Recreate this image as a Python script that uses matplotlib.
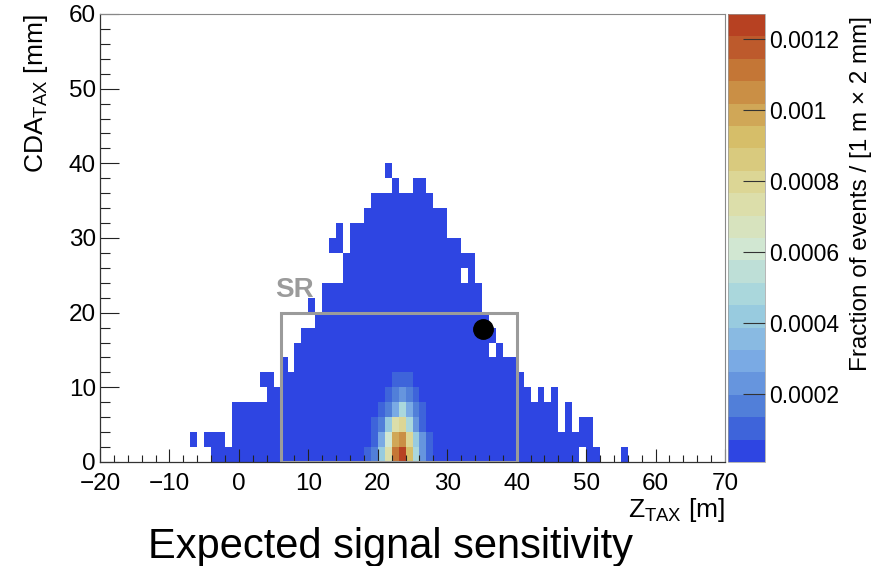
import numpy as np
import matplotlib
matplotlib.use("Agg")
import matplotlib.pyplot as plt
from matplotlib.colors import LinearSegmentedColormap, ListedColormap, BoundaryNorm
from matplotlib.patches import Rectangle
from matplotlib.ticker import MultipleLocator, FormatStrFormatter
from matplotlib.transforms import ScaledTranslation

plt.rcParams["font.family"] = ["Liberation Sans", "DejaVu Sans"]
plt.rcParams["mathtext.default"] = "regular"

# binning: 1 m in Z_TAX, 2 mm in CDA_TAX
z_edges = np.arange(-20, 71, 1)
cda_edges = np.arange(0, 62, 2)

# filled runs of the sparse tail: (z bin low edge, cda low, cda high)
filled_runs = [
    (-7, 2, 4), (-5, 2, 4), (-4, 0, 4), (-3, 0, 4), (-2, 0, 2),
    (-1, 0, 8), (0, 0, 8), (1, 0, 8), (2, 0, 8),
    (3, 0, 8), (3, 10, 12), (4, 0, 12), (5, 0, 10), (6, 0, 14),
    (7, 0, 12), (8, 0, 16), (9, 0, 18), (10, 0, 18), (10, 20, 22),
    (11, 0, 20), (12, 0, 24), (13, 0, 24), (13, 28, 30),
    (14, 0, 24), (14, 28, 32), (15, 0, 28), (16, 0, 32), (17, 0, 32),
    (18, 0, 34), (19, 0, 36), (20, 0, 36), (21, 0, 36), (21, 38, 40),
    (22, 0, 38), (23, 0, 36), (24, 0, 36), (25, 0, 38), (26, 0, 38),
    (27, 0, 36), (28, 0, 34), (29, 0, 34), (30, 0, 30), (31, 0, 30),
    (32, 0, 24), (32, 26, 28), (33, 0, 28), (34, 0, 24), (35, 0, 20),
    (36, 0, 14), (36, 16, 18), (37, 0, 16), (38, 0, 14), (39, 0, 14),
    (40, 0, 12), (41, 0, 10), (42, 0, 8), (43, 0, 10), (44, 0, 8),
    (45, 0, 10), (46, 0, 4), (47, 0, 8), (48, 0, 4), (49, 2, 6),
    (50, 0, 6), (51, 0, 2), (55, 0, 2),
]
tail_fraction = 0.00004

# signal core, rows = CDA 0-2, 2-4, ... 10-12 mm ; columns = Z bins 18..27 m
core_z = [18, 19, 20, 21, 22, 23, 24, 25, 26, 27]
core_fraction = [
    [0.0001, 0.00017, 0.00042, 0.00074, 0.00111, 0.00126, 0.00092, 0.00048, 0.00023, 0.0001],
    [0.0, 0.0001, 0.0003, 0.0006, 0.00099, 0.00105, 0.0008, 0.00042, 0.00023, 0.0001],
    [0.0, 0.0001, 0.00017, 0.00042, 0.00074, 0.0008, 0.00048, 0.00023, 0.0001, 0.0],
    [0.0, 0.0, 0.0001, 0.00017, 0.0003, 0.00048, 0.0003, 0.00017, 0.0001, 0.0],
    [0.0, 0.0, 0.0, 0.0001, 0.00017, 0.00023, 0.00017, 0.0001, 0.0, 0.0],
    [0.0, 0.0, 0.0, 0.0, 0.0001, 0.0001, 0.0001, 0.0, 0.0, 0.0],
]

# observed event
event_z = 35.2
event_cda = 17.8

z_min, z_max = 0.00001, 0.00127
cbar_ticks = [0.0002, 0.0004, 0.0006, 0.0008, 0.001, 0.0012]

# fill the 2D histogram
grid = np.zeros((len(cda_edges) - 1, len(z_edges) - 1))
for z, lo, hi in filled_runs:
    grid[lo // 2:hi // 2, z + 20] = tail_fraction
core = np.array(core_fraction)
c0 = core_z[0] + 20
block = grid[:core.shape[0], c0:c0 + core.shape[1]]
grid[:core.shape[0], c0:c0 + core.shape[1]] = np.maximum(block, core)
hist = np.ma.masked_equal(grid, 0)

# ROOT "light temperature" palette cut into 20 contour bands
lt_red = [31, 71, 123, 160, 210, 222, 214, 199, 183]
lt_green = [40, 117, 171, 211, 231, 220, 190, 132, 65]
lt_blue = [234, 214, 228, 222, 210, 160, 105, 60, 34]
stops = np.linspace(0, 1, 9)
smooth = LinearSegmentedColormap.from_list(
    "lighttemp",
    [(s, (r / 255, g / 255, b / 255)) for s, r, g, b in zip(stops, lt_red, lt_green, lt_blue)])
n_bands = 20
band_cmap = ListedColormap(smooth((np.arange(n_bands) + 0.99) / n_bands))
norm = BoundaryNorm(np.linspace(z_min, z_max, n_bands + 1), n_bands)

W, H = 886, 566
fig = plt.figure(figsize=(W / 100, H / 100), dpi=100)
ax = fig.add_axes([100 / W, 104 / H, 625 / W, 448 / H])
cax = fig.add_axes([728 / W, 104 / H, 37 / W, 448 / H])

mesh = ax.pcolormesh(z_edges, cda_edges, hist, cmap=band_cmap, norm=norm,
                     edgecolors="none", antialiased=False)

# signal region
ax.add_patch(Rectangle((6, 0), 34, 20, fill=False, ec="#9b9b9b", lw=2.2, zorder=3))
ax.text(5.2, 22.1, "SR", color="#9b9b9b", fontsize=20, fontweight="bold",
        ha="left", va="baseline", zorder=3)
ax.plot(event_z, event_cda, "o", color="black", ms=14, zorder=5)

ax.set_xlim(-20, 70)
ax.set_ylim(0, 60)
ax.xaxis.set_major_locator(MultipleLocator(10))
ax.xaxis.set_minor_locator(MultipleLocator(2))
ax.yaxis.set_major_locator(MultipleLocator(10))
ax.yaxis.set_minor_locator(MultipleLocator(2))
ax.tick_params(which="both", direction="in", top=False, right=False, color="#222222", width=0.8)
ax.tick_params(axis="x", which="major", length=9.5, pad=8, labelsize=17.5)
ax.tick_params(axis="x", which="minor", length=4.7)
ax.tick_params(axis="y", which="major", length=14, pad=3, labelsize=17.5)
ax.tick_params(axis="y", which="minor", length=7)
for side in ("left", "bottom"):
    ax.spines[side].set_color("#333333")
    ax.spines[side].set_linewidth(0.9)
for side in ("top", "right"):
    ax.spines[side].set_color("#888888")
    ax.spines[side].set_linewidth(0.8)

# lift the "0" on the y axis a little so it clears the "-20" below it
zero_lab = ax.yaxis.get_major_ticks()[0].label1
zero_lab.set_transform(zero_lab.get_transform() + ScaledTranslation(0, 3 / 72, fig.dpi_scale_trans))

cb = fig.colorbar(mesh, cax=cax, ticks=cbar_ticks)
cb.outline.set_linewidth(0.5)
cb.outline.set_edgecolor("#999999")
cax.yaxis.set_major_formatter(FormatStrFormatter("%g"))
cax.tick_params(direction="in", length=16, width=0.8, color="#333333", labelsize=16.5, pad=3)
cax.minorticks_off()

# axis titles, ROOT style (aligned at the axis ends)
fig.text(43 / W, (H - 14) / H, "CDA$_{TAX}$ [mm]", fontsize=19, rotation=90,
         rotation_mode="anchor", ha="right", va="baseline")
fig.text(725 / W, (H - 517) / H, "Z$_{TAX}$ [m]", fontsize=19, ha="right", va="baseline")
fig.text(867 / W, (H - 16) / H, "Fraction of events / [1 m \u00d7 2 mm]", fontsize=17.5,
         rotation=90, rotation_mode="anchor", ha="right", va="baseline")
fig.text(391 / W, (H - 558) / H, "Expected signal sensitivity", fontsize=30,
         ha="center", va="baseline")

fig.savefig("out.png", dpi=100)
